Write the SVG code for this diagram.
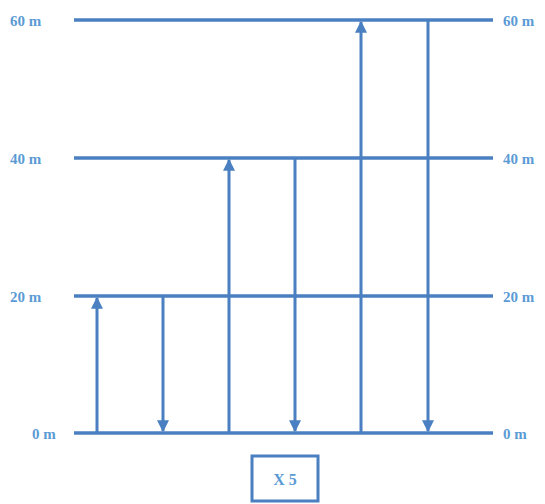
<svg xmlns="http://www.w3.org/2000/svg" width="545" height="504" viewBox="0 0 545 504">
<defs>
<style>
.lvl{stroke:#4a7fc1;stroke-width:3.5;fill:none}
.v{stroke:#4a7fc1;stroke-width:3;fill:none}
.lbl{font-family:"Liberation Serif",serif;font-size:15px;font-weight:bold;fill:#5b9bd5}
</style>
<marker id="ah" viewBox="0 0 10 10" refX="9" refY="5" markerWidth="4" markerHeight="4" orient="auto" markerUnits="strokeWidth">
<path d="M0,0 L10,5 L0,10 Z" fill="#4a7fc1"/>
</marker>
</defs>
<rect width="545" height="504" fill="#fff"/>
<g id="levels">
<g id="level60"><line class="lvl" x1="74" y1="20" x2="493" y2="20"/><text class="lbl" x="10" y="26">60 m</text><text class="lbl" x="503" y="26">60 m</text></g>
<g id="level40"><line class="lvl" x1="74" y1="158" x2="493" y2="158"/><text class="lbl" x="10" y="164">40 m</text><text class="lbl" x="503" y="164">40 m</text></g>
<g id="level20"><line class="lvl" x1="74" y1="296" x2="493" y2="296"/><text class="lbl" x="10" y="302">20 m</text><text class="lbl" x="503" y="302">20 m</text></g>
<g id="level0"><line class="lvl" x1="74" y1="433" x2="493" y2="433"/><text class="lbl" x="32" y="439">0 m</text><text class="lbl" x="503" y="439">0 m</text></g>
</g>
<g id="connectors">
<line class="v" x1="97" y1="433" x2="97" y2="298" marker-end="url(#ah)"/>
<line class="v" x1="163" y1="296" x2="163" y2="431" marker-end="url(#ah)"/>
<line class="v" x1="229" y1="433" x2="229" y2="160" marker-end="url(#ah)"/>
<line class="v" x1="295" y1="158" x2="295" y2="431" marker-end="url(#ah)"/>
<line class="v" x1="361" y1="433" x2="361" y2="22" marker-end="url(#ah)"/>
<line class="v" x1="428" y1="20" x2="428" y2="431" marker-end="url(#ah)"/>
</g>
<g id="box">
<rect x="252" y="456" width="66" height="45" fill="#fff" stroke="#4a7fc1" stroke-width="3"/>
<text class="lbl" x="285" y="485" text-anchor="middle" style="font-size:16px">X 5</text>
</g>
</svg>
